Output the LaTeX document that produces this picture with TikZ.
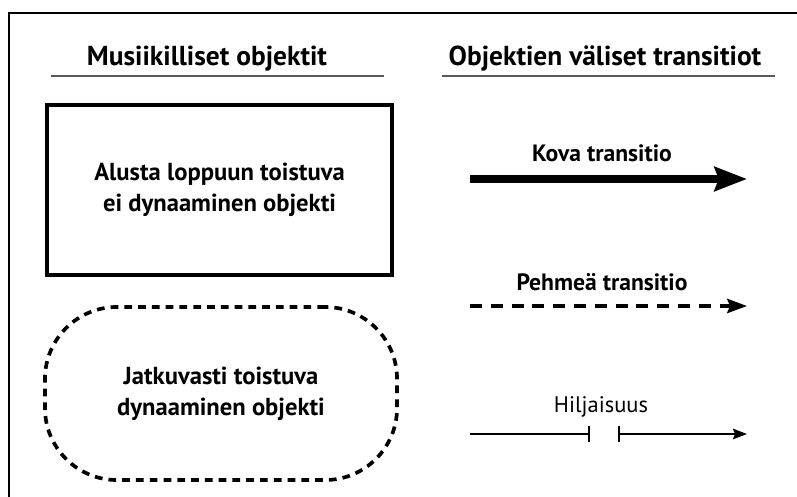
\documentclass[tikz,border=0pt]{standalone}
\usepackage{fontspec}
\setmainfont{PT Sans}
\usetikzlibrary{arrows.meta}

\tikzset{
  heading/.style={font=\bfseries\fontsize{19.5}{22}\selectfont, anchor=base, inner sep=0pt},
  rule/.style={draw=black!65, line width=1pt},
  objtext/.style={font=\bfseries\fontsize{17.5}{22}\selectfont, align=center},
  hardobj/.style={objtext, draw, line width=2.6pt, minimum width=8.625cm, minimum height=4.25cm},
  softobj/.style={objtext, draw, line width=2.6pt, dash pattern=on 5.5pt off 4.3pt,
    rounded corners=1.8cm, minimum width=8.8cm, minimum height=4.325cm},
  translabel/.style={font=\bfseries\fontsize{16.8}{19}\selectfont, anchor=base, inner sep=0pt},
  quietlabel/.style={font=\fontsize{16}{19}\selectfont, anchor=base, inner sep=0pt},
  hardarrow/.style={line width=5.7pt, -{Stealth[length=23pt, width=17pt, inset=3pt]}},
  softarrow/.style={line width=2.8pt, dash pattern=on 8.5pt off 6.3pt,
    -{Stealth[length=14pt, width=10pt, inset=2pt]}},
  quietline/.style={line width=1.4pt}
}

\begin{document}
\begin{tikzpicture}[x=0.025cm, y=-0.025cm]
\useasboundingbox (0,0) rectangle (797,497);

% Frame
\draw[line width=1.1pt] (9,497) -- (9,13) -- (797,13);

% Column headings
\node[heading] (hdobj) at (207,66) {Musiikilliset objektit};
\node[heading] (hdtrans) at (605,66) {Objektien väliset transitiot};
\draw[rule] (51,76) -- (384,76);
\draw[rule] (442,76) -- (775,76);

% Objects
\node[hardobj] (loopobj) at (219.5,190) {Alusta loppuun toistuva\\ei dynaaminen objekti};
\node[softobj] (dynobj) at (221,393.5) {Jatkuvasti toistuva\\dynaaminen objekti};

% Transitions
\coordinate (hardA) at (470,179);
\coordinate (hardB) at (747,179);
\node[translabel] (hardlbl) at (602,162) {Kova transitio};
\draw[hardarrow] (hardA) -- (hardB);

\coordinate (softA) at (470,306);
\coordinate (softB) at (747,306);
\node[translabel] (softlbl) at (602,291) {Pehmeä transitio};
\draw[softarrow] (softA) -- (softB);

\coordinate (quietA) at (470,434);
\coordinate (quietB) at (590,434);
\coordinate (quietC) at (618,434);
\coordinate (quietD) at (747,434);
\node[quietlabel] (quietlbl) at (601,413) {Hiljaisuus};
\draw[quietline, -{Bar[width=12pt]}] (quietA) -- (quietB);
\draw[quietline, {Bar[width=12pt]}-{Stealth[length=10pt, width=7.5pt, inset=1.5pt]}] (quietC) -- (quietD);

\end{tikzpicture}
\end{document}
